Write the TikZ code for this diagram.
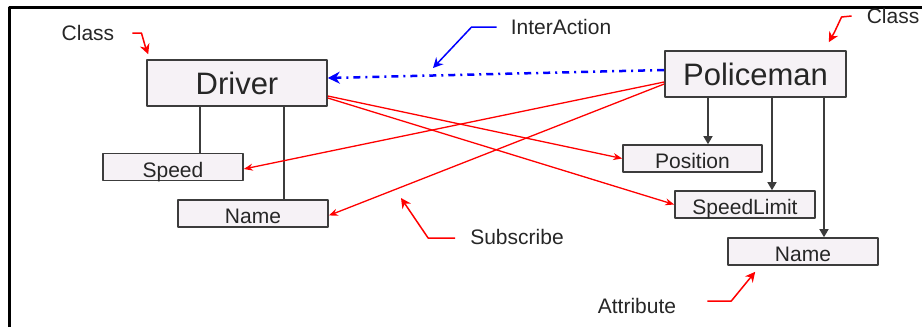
\documentclass[tikz,border=0pt]{standalone}
\usepackage{fontspec}
\setmainfont{Liberation Sans}
\usetikzlibrary{arrows.meta}
\definecolor{boxfill}{RGB}{246,242,246}
\definecolor{boxline}{RGB}{60,60,60}
\begin{document}
\begin{tikzpicture}[x=1pt,y=-1pt,>={Stealth},line join=round,
	font=\fontsize{21}{25}\selectfont,text=black!85,
	cls/.style={draw=boxline,fill=boxfill,line width=1.6pt,minimum width=#1,minimum height=46pt,inner sep=0pt,font=\fontsize{31}{36}\selectfont},
	attr/.style={draw=boxline,fill=boxfill,line width=1.6pt,minimum width=#1,minimum height=27pt,inner sep=0pt,text height=20pt,text depth=0pt},
	lbl/.style={inner sep=0pt},
	has/.style={boxline,line width=1.4pt},
	hasarr/.style={boxline,line width=1.4pt,-{Triangle[length=8pt,width=9pt]}},
	subscr/.style={red,line width=1.3pt,-{Stealth[length=9pt,width=7pt]}},
	note/.style={red,line width=1.5pt,-{Stealth[length=10pt,width=10pt]}}]
		\useasboundingbox (0,0) rectangle (922,327);
		\draw[line width=3pt] (9,327)--(9,7)--(922,7);
		% classes and attributes
		\node[cls=180pt] (drv) at (237,83) {Driver};
		\node[cls=181pt] (pol) at (755.5,74) {Policeman};
		\node[attr=140pt] (spd) at (173,167) {Speed};
		\node[attr=150pt] (nmL) at (253,213.5) {Name};
		\node[attr=139pt] (pos) at (692.5,158.5) {Position};
		\node[attr=140pt] (spl) at (745,204.5) {SpeedLimit};
		\node[attr=150pt] (nmR) at (803,251.5) {Name};
		\draw[has] ([xshift=27pt]spd.north)--([xshift=27pt]spd.north |- drv.south);
		\draw[has] ([xshift=31pt]nmL.north)--([xshift=31pt]nmL.north |- drv.south);
		\draw[hasarr] ([xshift=15.5pt]pos.north |- pol.south)--([xshift=15.5pt]pos.north);
		\draw[hasarr] ([xshift=27pt]spl.north |- pol.south)--([xshift=27pt]spl.north);
		\draw[hasarr] ([xshift=21pt]nmR.north |- pol.south)--([xshift=21pt]nmR.north);
		% subscriptions
		\draw[subscr] ([yshift=-13pt]drv.east)--(pos.west);
		\draw[subscr] ([yshift=-15pt]drv.east)--(spl.west);
		\draw[subscr] ([yshift=-8pt]pol.west)--([yshift=-2pt]spd.east);
		\draw[subscr] ([yshift=-10pt]pol.west)--([yshift=-2pt]nmL.east);
		\draw[blue,line width=2.5pt,dash pattern=on 7pt off 5pt on 2pt off 5pt,-{Stealth[length=12pt,width=12pt]}]
		([yshift=4pt]pol.west)--([yshift=5pt]drv.east);
		% labels
		\node[lbl] (cls1) at (88,33) {Class};
		\node[lbl] (cls2) at (893,16) {Class};
		\node[lbl] (ia) at (561,27) {InterAction};
		\node[lbl] (sub) at (517,237) {Subscribe};
		\node[lbl] (att) at (637,306) {Attribute};
		\coordinate (iaTip) at (433,68);
		\coordinate (subTip) at (401,198);
		\draw[note] ([xshift=18pt]cls1.east)--++(9,0)--++(4,14)--([xshift=2pt,yshift=5pt]drv.north west);
		\draw[note] ([xshift=-15pt]cls2.west)--++(-10,1)--++(-7,15)--([xshift=-18pt,yshift=8pt]pol.north east);
		\draw[note,blue] ([xshift=-14pt]ia.west)--++(-25,0)--(iaTip);
		\draw[note] ([xshift=-15pt,yshift=-1pt]sub.west)--++(-27,0)--(subTip);
		\draw[note] ([xshift=31pt,yshift=5pt]att.east)--++(24,0)--([xshift=28pt,yshift=-6pt]nmR.south west);
	\end{tikzpicture}
\end{document}
